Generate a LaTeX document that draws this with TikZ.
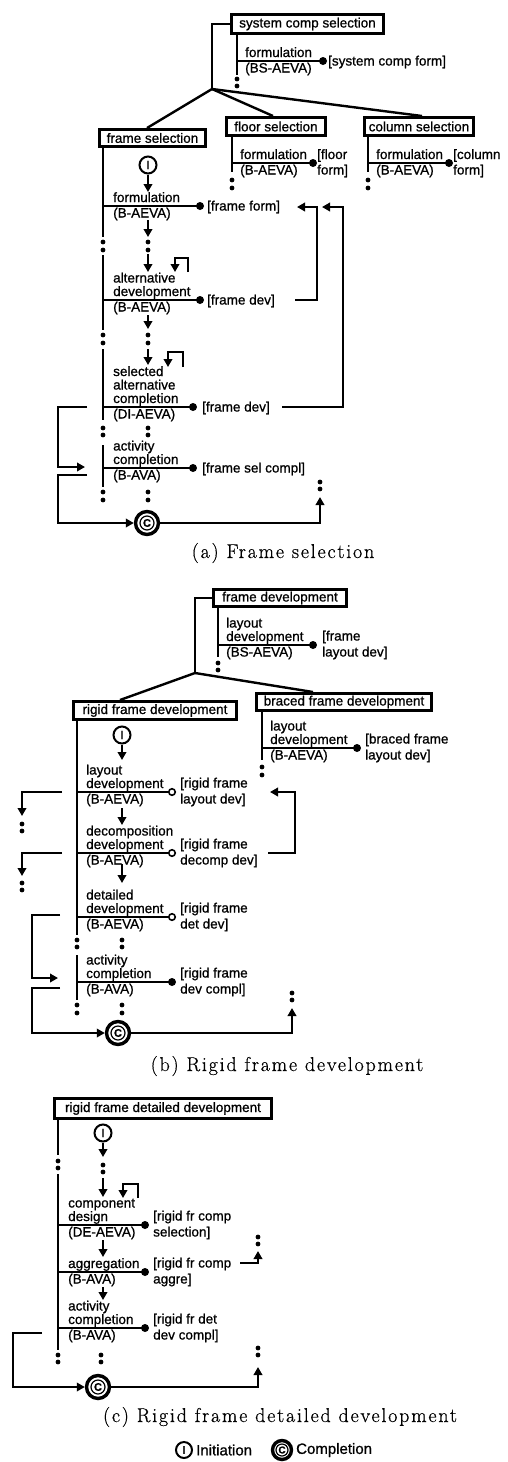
\documentclass[tikz,border=0pt]{standalone}
\usepackage{fontspec}
\newfontfamily\dsf{Liberation Sans}[FakeBold=0.9]
\newfontfamily\capfont{Latin Modern Roman}[LetterSpace=9,FakeBold=0.6]
\usetikzlibrary{arrows.meta}
\newcommand\mlines[2][13.5pt]{\vbox{\baselineskip=#1\lineskiplimit=-30pt\lineskip=0pt\relax\halign{##\hfil\cr#2\crcr}}}
\newcommand\twodots[3]{\fill (#1,#2) circle (2.4pt); \fill (#1,#3) circle (2.4pt);}
\newcommand\activ[8]{%
  \draw[actline] (#2,#3) -- (#7,#3);
  \node[#8] (#1d) at (#7,#3) {};
  \node[uptext] (#1u) at (#4,#3-4) {#5};
  \node[lowtext] (#1l) at (#4,#3+11.5) {#6};
}
\newcommand\complc[6]{%
  \node[circle, draw, line width=3.4pt, fill=white, minimum size=#4] (#1) at (#2,#3) {};
  \draw[line width=1.2pt] (#1.center) circle (#5);
  \node[font=\dsf\bfseries\fontsize{#6}{#6}\selectfont] (#1t) at (#1.center) {C};
}
\tikzset{
  every node/.style={inner sep=0pt, font=\dsf\fontsize{13.5}{13.5}\selectfont},
  boxn/.style={draw, line width=3.5pt, fill=white, inner sep=0pt},
  mainline/.style={line width=2.8pt},
  actline/.style={line width=2.4pt},
  branch/.style={line width=2.4pt},
  flow/.style={line width=2pt, -{Triangle[width=8.5pt,length=8pt]}},
  loopa/.style={line width=2pt, -{Triangle[width=8.5pt,length=8pt]}},
  fdot/.style={circle, fill, minimum size=8pt},
  odot/.style={circle, draw, line width=1.6pt, fill=white, minimum size=6.5pt},
  initc/.style={circle, draw, line width=2pt, fill=white, minimum size=17pt, font=\dsf\fontsize{12}{12}\selectfont},
  uptext/.style={anchor=base west},
  lowtext/.style={anchor=base west},
  rtext/.style={anchor=base west},
  captext/.style={font={\capfont\fontsize{20}{24}\selectfont}},
}
\begin{document}
\begin{tikzpicture}[x=1pt,y=-1pt]
\useasboundingbox (0,0) rectangle (508,1462);

% ================= (a) =================
\coordinate (br1) at (212,89);
\draw[branch] (br1) -- (147,128);
\draw[branch] (br1) -- (273,116);
\draw[branch] (br1) -- (422,116);
\node[boxn, minimum width=152pt, minimum height=19pt] (sys) at (307.5,24) {system comp selection};
\draw[mainline] (sys.west) -- (212,24) -- (br1);
\draw[mainline] (237,35) -- (237,75); \twodots{237}{79}{86}
\activ{sf}{237}{61}{245}{formulation}{(BS-AEVA)}{323}{fdot}
\node[rtext] (sfr) at (328,65.5) {[system comp form]};

\node[boxn, minimum width=106pt, minimum height=17pt] (fsel) at (152.5,138) {frame selection};
\node[boxn, minimum width=99pt, minimum height=18pt] (flsel) at (276,126.5) {floor selection};
\node[boxn, minimum width=109pt, minimum height=18pt] (clsel) at (419,126.5) {column selection};

% floor
\draw[mainline] (232,137) -- (232,172); \twodots{232}{180}{188}
\activ{fl}{232}{163}{240}{formulation}{(B-AEVA)}{313}{fdot}
\node[rtext] (flr) at (317,174.5) {\mlines[15.5pt]{[floor\cr form]}};
% column
\draw[mainline] (368,137) -- (368,172); \twodots{368}{180}{188}
\activ{cl}{368}{163}{376}{formulation}{(B-AEVA)}{449}{fdot}
\node[rtext] (clr) at (453,174.5) {\mlines[15.5pt]{[column\cr form]}};

% frame selection main line
\draw[mainline] (103,148) -- (103,237); \twodots{103}{242}{250}
\draw[mainline] (103,255) -- (103,330); \twodots{103}{335}{343}
\draw[mainline] (103,349) -- (103,420); \twodots{103}{428}{435}
\draw[mainline] (103,445) -- (103,487); \twodots{103}{492}{500}

\node[initc] (ia) at (148,165) {I};
\draw[flow] (ia) -- (148,192);
\activ{a1}{103}{206}{113}{formulation}{(B-AEVA)}{200}{fdot}
\node[rtext] (a1r) at (207,210.5) {[frame form]};
\draw[flow] (148,220) -- (148,237); \twodots{148}{242}{250}
\draw[flow] (148,254) -- (148,272);
\draw[loopa] (188,272) -- (188,258) -- (175,258) -- (175,272);
\activ{a2}{103}{300}{113}{\mlines{alternative\cr development}}{(B-AEVA)}{200}{fdot}
\node[rtext] (a2r) at (207,304.5) {[frame dev]};
\draw[flow] (148,315) -- (148,329); \twodots{148}{335}{343}
\draw[flow] (148,349) -- (148,365);
\draw[loopa] (183,367) -- (183,352) -- (168,352) -- (168,367);
\activ{a3}{103}{407}{113}{\mlines{selected\cr alternative\cr completion}}{(DI-AEVA)}{193}{fdot}
\node[rtext] (a3r) at (202,411.5) {[frame dev]};
\twodots{148}{428}{435}
\activ{a4}{103}{468}{113}{\mlines{activity\cr completion}}{(B-AVA)}{193}{fdot}
\node[rtext] (a4r) at (202,472.5) {[frame sel compl]};
\twodots{148}{492}{500}
\complc{ca}{147}{523}{23pt}{7pt}{11}

\draw[loopa] (295,300) -- (317,300) -- (317,207) -- (297,207);
\draw[loopa] (282,407) -- (343,407) -- (343,207) -- (322,207);
\draw[loopa] (87,407) -- (58,407) -- (58,467) -- (85,467);
\draw[loopa] (87,475) -- (58,475) -- (58,523) -- (ca);
\draw[loopa] (ca) -- (320,523) -- (320,497); \twodots{320}{482}{489}

\node[captext] (capa) at (283,553) {(a) Frame selection};

% ================= (b) =================
\coordinate (br2) at (195,673);
\draw[branch] (br2) -- (120,700);
\draw[branch] (br2) -- (313,692);
\node[boxn, minimum width=133pt, minimum height=17pt] (fdev) at (280,598) {frame development};
\draw[mainline] (fdev.west) -- (195,598) -- (br2);
\draw[mainline] (218,608) -- (218,657); \twodots{218}{663}{670}
\activ{fd}{218}{645}{226}{\mlines{layout\cr development}}{(BS-AEVA)}{313}{fdot}
\node[rtext] (fdr) at (322,656.5) {\mlines[16pt]{[frame\cr layout dev]}};

\node[boxn, minimum width=163pt, minimum height=18pt] (rfd) at (155,710.5) {rigid frame development};
\node[boxn, minimum width=175pt, minimum height=17pt] (bfd) at (344,702) {braced frame development};

\draw[mainline] (262,712) -- (262,760); \twodots{262}{767}{775}
\activ{bf}{262}{748}{270}{\mlines{layout\cr development}}{(B-AEVA)}{357}{fdot}
\node[rtext] (bfr) at (365,759.5) {\mlines[16pt]{[braced frame\cr layout dev]}};

\draw[mainline] (77,721) -- (77,935); \twodots{77}{940}{947}
\draw[mainline] (77,955) -- (77,1000); \twodots{77}{1005}{1013}
\node[initc] (ib) at (122,735) {I};
\draw[flow] (ib) -- (122,760);
\activ{rb1}{77}{792}{86}{\mlines{layout\cr development}}{(B-AEVA)}{172}{odot}
\node[rtext] (rb1r) at (180,803.5) {\mlines[16pt]{[rigid frame\cr layout dev]}};
\draw[flow] (122,808) -- (122,825);
\activ{rb2}{77}{853}{86}{\mlines{decomposition\cr development}}{(B-AEVA)}{172}{odot}
\node[rtext] (rb2r) at (180,864.5) {\mlines[16pt]{[rigid frame\cr decomp dev]}};
\draw[flow] (122,864) -- (122,883);
\activ{rb3}{77}{917}{86}{\mlines{detailed\cr development}}{(B-AEVA)}{172}{odot}
\node[rtext] (rb3r) at (180,928.5) {\mlines[16pt]{[rigid frame\cr det dev]}};
\twodots{122}{940}{947}
\activ{rb4}{77}{982}{86}{\mlines{activity\cr completion}}{(B-AVA)}{172}{fdot}
\node[rtext] (rb4r) at (180,993.5) {\mlines[16pt]{[rigid frame\cr dev compl]}};
\twodots{122}{1005}{1013}
\complc{cb}{118}{1033}{23pt}{7pt}{11}

\draw[loopa] (62,792) -- (22,792) -- (22,816); \twodots{22}{824}{831}
\draw[loopa] (62,853) -- (22,853) -- (22,876); \twodots{22}{883}{890}
\draw[loopa] (268,853) -- (295,853) -- (295,792) -- (270,792);
\draw[loopa] (60,915) -- (32,915) -- (32,978) -- (58,978);
\draw[loopa] (60,988) -- (32,988) -- (32,1033) -- (cb);
\draw[loopa] (cb) -- (292,1033) -- (292,1008); \twodots{292}{993}{1000}

\node[captext] (capb) at (287,1066) {(b) Rigid frame development};

% ================= (c) =================
\node[boxn, minimum width=217pt, minimum height=20pt] (rfdd) at (163,1108.5) {rigid frame detailed development};
\draw[mainline] (58,1120) -- (58,1155); \twodots{58}{1161}{1168}
\draw[mainline] (58,1174) -- (58,1350); \twodots{58}{1355}{1362}
\node[initc] (ic) at (103,1133) {I};
\draw[flow] (ic) -- (103,1157); \twodots{103}{1165}{1172}
\draw[flow] (103,1178) -- (103,1197);
\draw[loopa] (138,1198) -- (138,1184) -- (123,1184) -- (123,1198);
\activ{c1}{58}{1225}{68}{\mlines{component\cr design}}{(DE-AEVA)}{145}{fdot}
\node[rtext] (c1r) at (153,1236.5) {\mlines[16pt]{[rigid fr comp\cr selection]}};
\draw[flow] (103,1240) -- (103,1257);
\activ{c2}{58}{1272}{68}{aggregation}{(B-AVA)}{145}{fdot}
\node[rtext] (c2r) at (153,1283.5) {\mlines[16pt]{[rigid fr comp\cr aggre]}};
\draw[loopa] (240,1263) -- (258,1263) -- (258,1251); \twodots{258}{1237}{1244}
\draw[flow] (103,1287) -- (103,1300);
\activ{c3}{58}{1328}{68}{\mlines{activity\cr completion}}{(B-AVA)}{145}{fdot}
\node[rtext] (c3r) at (153,1339.5) {\mlines[16pt]{[rigid fr det\cr dev compl]}};
\twodots{101}{1355}{1362}
\complc{cc}{98}{1387}{23pt}{7pt}{11}
\draw[loopa] (42,1333) -- (13,1333) -- (13,1387) -- (cc);
\draw[loopa] (cc) -- (258,1387) -- (258,1367); \twodots{258}{1348}{1355}

\node[captext] (capc) at (280,1417) {(c) Rigid frame detailed development};

% legend
\node[initc, minimum size=16pt, font=\dsf\fontsize{11}{11}\selectfont] (li) at (184,1450) {I};
\node[anchor=west, font=\dsf\fontsize{15}{15}\selectfont] (lit) at (196,1450) {Initiation};
\complc{lc}{282}{1450}{19pt}{6pt}{10}
\node[anchor=west, font=\dsf\fontsize{15}{15}\selectfont] (lct) at (296,1450) {Completion};
\end{tikzpicture}
\end{document}
